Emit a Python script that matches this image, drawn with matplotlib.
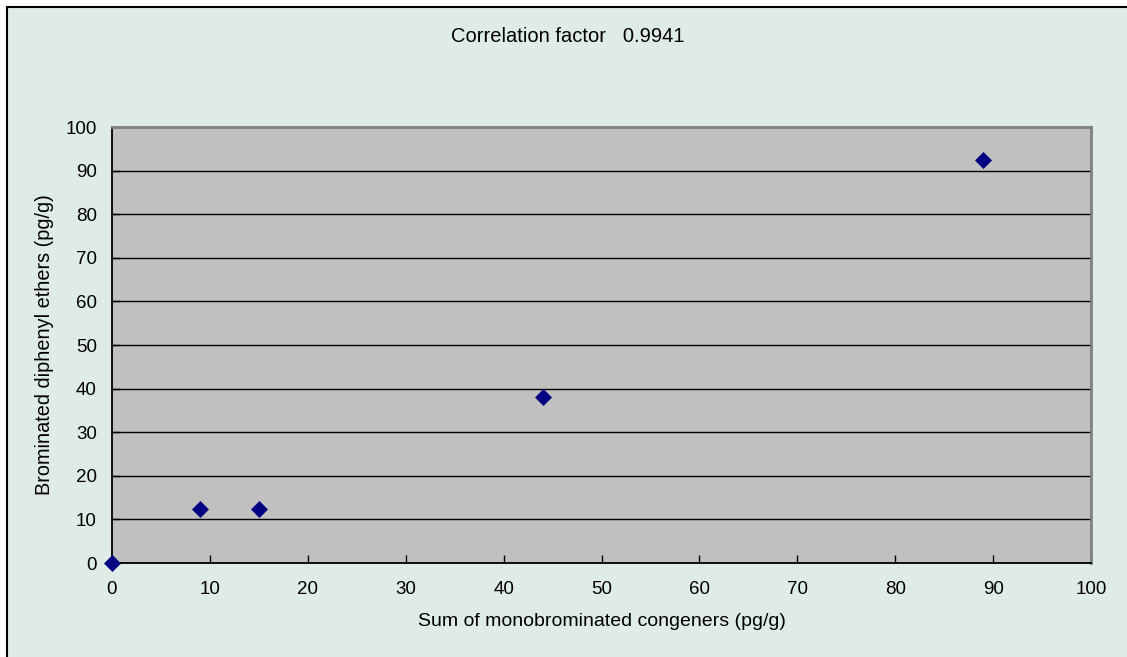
import matplotlib
matplotlib.use("Agg")
import matplotlib.pyplot as plt
from matplotlib.patches import Rectangle

# data
mono_sum = [0, 9, 15, 44, 89]
pbde = [0, 12.5, 12.5, 38, 92.5]
x_ticks = [0, 10, 20, 30, 40, 50, 60, 70, 80, 90, 100]
y_ticks = [0, 10, 20, 30, 40, 50, 60, 70, 80, 90, 100]
corr_text = "Correlation factor   0.9941"

plt.rcParams["font.family"] = ["Liberation Sans", "DejaVu Sans"]

W, H = 1127, 657
fig = plt.figure(figsize=(W / 100, H / 100), dpi=100)
fig.patch.set_facecolor("white")

bg = "#DFEBE6"
# outer chart frame (left/top edges visible, right/bottom run off the image)
frame = Rectangle((7 / W, -0.1), 2.0, 1 - 7 / H + 0.1, transform=fig.transFigure,
                  facecolor=bg, edgecolor="black", linewidth=1.5, zorder=-10)
fig.patches.append(frame)

ax = fig.add_axes([112 / W, 1 - 563 / H, (1091 - 112) / W, (563 - 127) / H])
ax.set_facecolor("#C0C0C0")

ax.scatter(mono_sum, pbde, marker="D", s=75, color="#000080", linewidths=0,
           zorder=5, clip_on=False)

ax.set_xlim(0, 100)
ax.set_ylim(0, 100)
ax.set_xticks(x_ticks)
ax.set_yticks(y_ticks)
ax.tick_params(axis="both", direction="in", length=6, width=1, color="black",
               labelsize=13.5, labelcolor="black")
ax.tick_params(axis="x", pad=13)
ax.tick_params(axis="y", pad=11)
ax.yaxis.grid(True, color="black", linewidth=1)
ax.set_axisbelow(True)

for side in ["left", "bottom"]:
    ax.spines[side].set_color("black")
    ax.spines[side].set_linewidth(1.3)
for side in ["top", "right"]:
    ax.spines[side].set_color("#808080")
    ax.spines[side].set_linewidth(2)

ax.set_xlabel("Sum of monobrominated congeners (pg/g)", fontsize=14, labelpad=11)
ax.set_ylabel("Brominated diphenyl ethers (pg/g)", fontsize=14.3, labelpad=8)

fig.text(568 / W, 1 - 37 / H, corr_text, ha="center", va="center", fontsize=14.5)

fig.savefig("out.png", dpi=100)
